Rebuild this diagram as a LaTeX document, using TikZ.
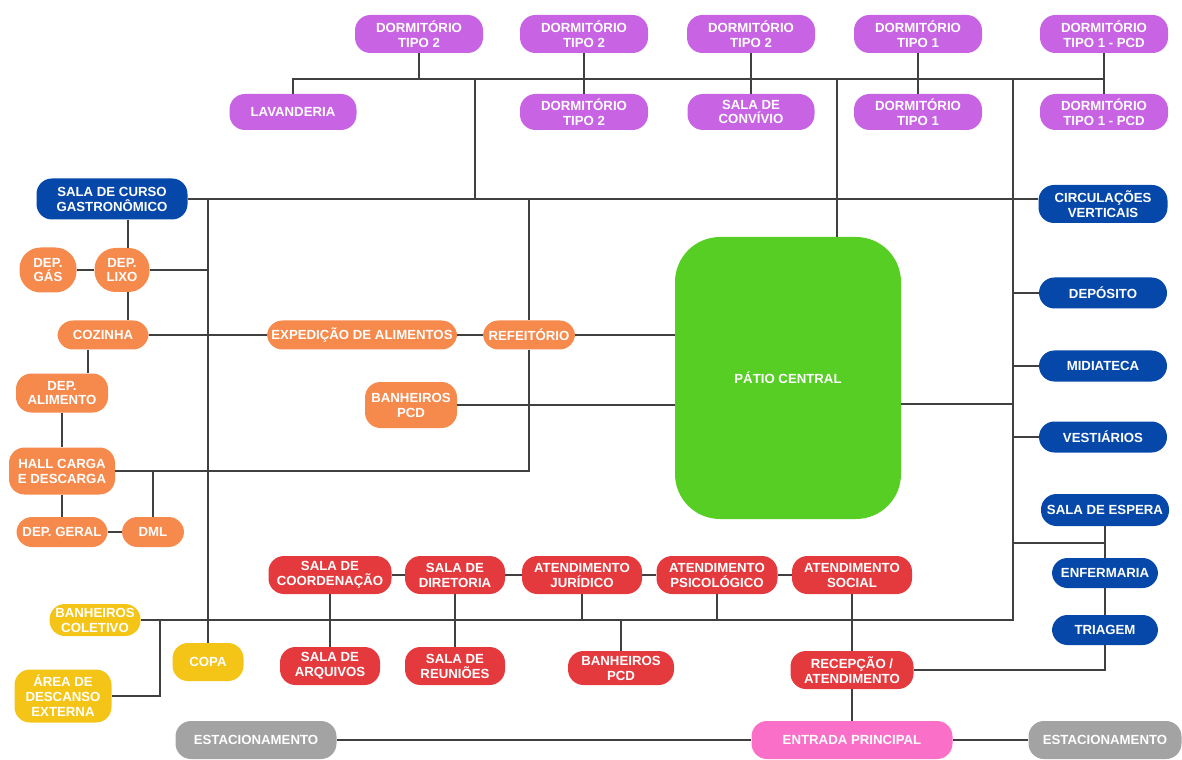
\documentclass[tikz,border=0pt]{standalone}
\usepackage{fontspec}
\setmainfont{Liberation Sans}
\usetikzlibrary{positioning}
\definecolor{roxo}{RGB}{200, 100, 228}
\definecolor{azul}{RGB}{6, 72, 170}
\definecolor{laranja}{RGB}{246, 137, 76}
\definecolor{vermelho}{RGB}{228, 58, 62}
\definecolor{amarelo}{RGB}{244, 196, 22}
\definecolor{cinza}{RGB}{163, 163, 163}
\definecolor{rosa}{RGB}{250, 112, 200}
\definecolor{verde}{RGB}{86, 206, 36}

\begin{document}
\begin{tikzpicture}[x=0.025cm, y=-0.025cm]
    \tikzstyle{room}=[rectangle, rounded corners=11pt, text=white, align=center, inner sep=0pt, font=\bfseries\fontsize{9.4}{10.6}\selectfont]
    \tikzstyle{link}=[draw=black!75, line width=0.9pt]
    \tikzset{sz/.style 2 args={minimum width=#1*0.025cm, minimum height=#2*0.025cm}}
    \useasboundingbox (0,0) rectangle (1182,760);

    % Dormitorios (top)
    \foreach \x/\name/\txt in {419/d2a/TIPO 2, 584/d2b/TIPO 2, 751/d2d/TIPO 2, 918/d1a/TIPO 1, 1104/pcda/TIPO 1 - PCD} {
        \node[room, fill=roxo, sz={128}{38}] (\name) at (\x, 34) {DORMITÓRIO\\\txt};
    }
    \foreach \x/\name/\txt in {584/d2c/TIPO 2, 918/d1b/TIPO 1, 1104/pcdb/TIPO 1 - PCD} {
        \node[room, fill=roxo, sz={128}{36}] (\name) at (\x, 112) {DORMITÓRIO\\\txt};
    }
    \node[room, fill=roxo, sz={127}{36}] (lav) at (293, 112) {LAVANDERIA};
    \node[room, fill=roxo, sz={127}{36}] (conv) at (751, 112) {SALA DE\\CONVÍVIO};

    % Patio
    \node[room, fill=verde, sz={226}{282}, rounded corners=32pt] (patio) at (788, 378) {PÁTIO CENTRAL};

    % Cozinha / servico
    \node[room, fill=azul, sz={151}{41}] (curso) at (112, 199) {SALA DE CURSO\\GASTRONÔMICO};
    \node[room, fill=laranja, sz={57}{45}, rounded corners=15pt] (gas) at (48, 270) {DEP.\\GÁS};
    \node[room, fill=laranja, sz={55}{44}, rounded corners=15pt] (lixo) at (122, 270) {DEP.\\LIXO};
    \node[room, fill=laranja, sz={91}{29}] (coz) at (103, 335) {COZINHA};
    \node[room, fill=laranja, sz={190}{29}] (exp) at (362, 335) {EXPEDIÇÃO DE ALIMENTOS};
    \node[room, fill=laranja, sz={92}{29}] (ref) at (529, 335) {REFEITÓRIO};
    \node[room, fill=laranja, sz={92}{46}] (banpcd) at (411, 405) {BANHEIROS\\PCD};
    \node[room, fill=laranja, sz={92}{39}] (alim) at (62, 393) {DEP.\\ALIMENTO};
    \node[room, fill=laranja, sz={106}{47}] (hall) at (62, 471) {HALL CARGA\\E DESCARGA};
    \node[room, fill=laranja, sz={91}{30}] (geral) at (62, 532) {DEP. GERAL};
    \node[room, fill=laranja, sz={62}{30}] (dml) at (153, 532) {DML};

    % Apoio
    \node[room, fill=amarelo, sz={91}{32}] (banco) at (95, 620) {BANHEIROS\\COLETIVO};
    \node[room, fill=amarelo, sz={97}{53}] (area) at (63, 696) {ÁREA DE\\DESCANSO\\EXTERNA};
    \node[room, fill=amarelo, sz={71}{38}] (copa) at (208, 662) {COPA};

    % Administracao
    \node[room, fill=vermelho, sz={123}{38}] (coord) at (330, 575) {SALA DE\\COORDENAÇÃO};
    \node[room, fill=vermelho, sz={100}{38}] (dir) at (455, 575) {SALA DE\\DIRETORIA};
    \node[room, fill=vermelho, sz={120}{38}] (jur) at (582, 575) {ATENDIMENTO\\JURÍDICO};
    \node[room, fill=vermelho, sz={121}{38}] (psi) at (717, 575) {ATENDIMENTO\\PSICOLÓGICO};
    \node[room, fill=vermelho, sz={120}{38}] (soc) at (852, 575) {ATENDIMENTO\\SOCIAL};
    \node[room, fill=vermelho, sz={100}{38}] (arq) at (330, 666) {SALA DE\\ARQUIVOS};
    \node[room, fill=vermelho, sz={100}{38}] (reu) at (455, 666) {SALA DE\\REUNIÕES};
    \node[room, fill=vermelho, sz={106}{34}] (banr) at (621, 668) {BANHEIROS\\PCD};
    \node[room, fill=vermelho, sz={123}{38}] (rec) at (852, 670) {RECEPÇÃO /\\ATENDIMENTO};

    % Entrada
    \node[room, fill=rosa, sz={201}{38}] (ent) at (852, 740) {ENTRADA PRINCIPAL};
    \node[room, fill=cinza, sz={161}{38}] (estL) at (256, 740) {ESTACIONAMENTO};
    \node[room, fill=cinza, sz={153}{38}] (estR) at (1105, 740) {ESTACIONAMENTO};

    % Lado direito
    \node[room, fill=azul, sz={129}{38}] (circ) at (1103, 204) {CIRCULAÇÕES\\VERTICAIS};
    \foreach \y/\name/\txt in {293/dep/DEPÓSITO, 366/mid/MIDIATECA, 437/vest/VESTIÁRIOS} {
        \node[room, fill=azul, sz={128}{31}] (\name) at (1103, \y) {\txt};
    }
    \node[room, fill=azul, sz={128}{32}] (esp) at (1105, 510) {SALA DE ESPERA};
    \node[room, fill=azul, sz={106}{30}] (enf) at (1105, 573) {ENFERMARIA};
    \node[room, fill=azul, sz={106}{30}] (tri) at (1105, 630) {TRIAGEM};

    % Connections
    \coordinate (topR) at (1104, 79);
    \coordinate (bus) at (1013, 620);
    \coordinate (kx) at (128, 0);
    \coordinate (ca) at (88, 0);
    \draw[link] (lav) |- (topR);
    \foreach \a/\b in {d2b/d2c, d2d/conv, d1a/d1b, pcda/pcdb} {
        \draw[link] (\a) -- (\b);
    }
    \draw[link] (d2a) -- (d2a |- topR);
    \draw[link] (475, 79) -- (475, 199);
    \draw[link] (837, 79) -- (patio.north -| 837, 0);
    \draw[link] (bus |- topR) -- (bus) -- (banco);
    \draw[link] (curso) -- (curso -| circ.west);

    \draw[link] (kx |- curso.south) -- (kx |- lixo.north);
    \draw[link] (kx |- lixo.south) -- (kx |- coz.north);
    \draw[link] (gas) -- (lixo) -- (lixo -| copa);
    \draw[link] (copa) -- (copa |- curso);
    \draw[link] (coz) -- (exp) -- (ref) -- (ref -| patio.west);
    \draw[link] (ref) -- (ref |- curso);
    \draw[link] (ref) |- (hall);
    \draw[link] (banpcd) -- (banpcd -| patio.west);
    \draw[link] (ca |- coz.south) -- (ca |- alim.north);
    \draw[link] (alim) -- (hall) -- (geral) -- (dml);
    \draw[link] (dml) -- (dml |- hall);

    \draw[link] (160, 620) |- (area);
    \draw[link] (coord) -- (dir) -- (jur) -- (psi) -- (soc);
    \draw[link] (coord) -- (arq);
    \draw[link] (dir) -- (reu);
    \foreach \n in {jur, psi, banr} {
        \draw[link] (\n) -- (\n |- bus);
    }
    \draw[link] (soc) -- (rec) -- (ent);
    \draw[link] (estL) -- (ent) -- (estR);

    \foreach \n in {dep, mid, vest} {
        \draw[link] (\n) -- (\n -| bus);
    }
    \draw[link] (1013, 404) -- (patio.east |- 0, 404);
    \draw[link] (1013, 543) -- (esp.south |- 0, 543);
    \draw[link] (esp) -- (enf) -- (tri);
    \draw[link] (tri) |- (rec);
\end{tikzpicture}
\end{document}
